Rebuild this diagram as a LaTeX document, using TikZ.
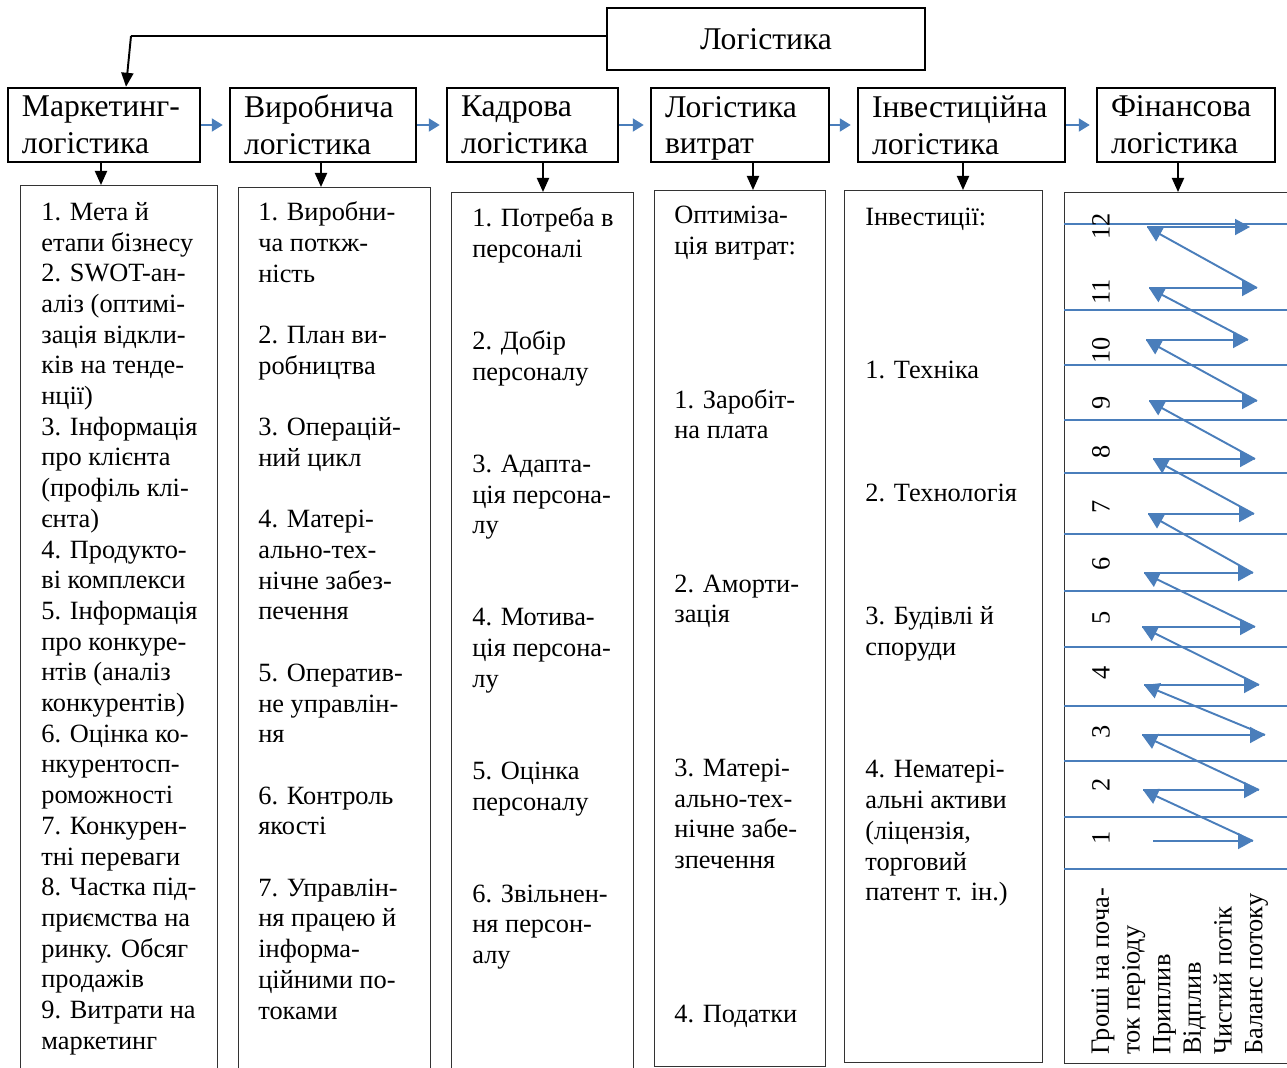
\documentclass[tikz,border=0pt]{standalone}
\usepackage{fontspec}
\setmainfont{Liberation Serif}
\usetikzlibrary{arrows.meta}

\definecolor{flowblue}{RGB}{74,126,187}

\tikzset{
  headbox/.style={draw, line width=1.4pt, align=left, inner xsep=2.8mm, inner ysep=0pt,
    minimum height=14.8mm, text width=#1, font=\fontsize{18}{21}\selectfont},
  listbox/.style={draw=black!80, line width=0.7pt, anchor=north west, inner sep=0pt},
  listtext/.style={anchor=north west, inner sep=0pt, align=left, font=\fontsize{15}{17.47}\selectfont},
  blkarr/.style={line width=1.1pt, -{Triangle[length=2.8mm,width=2.4mm]}},
  bluearr/.style={flowblue, line width=1.1pt, -{Triangle[length=2.2mm,width=2.6mm]}},
  flowarr/.style={flowblue, line width=1.1pt, -{Triangle[length=3mm,width=3.2mm]}},
  flowline/.style={flowblue, line width=0.8pt},
}

\begin{document}
\begin{tikzpicture}[x=0.2mm, y=-0.2mm]
\path[use as bounding box, clip] (0,0) rectangle (1287,1068);

% top
\node[draw, line width=0.9pt, minimum width=63.6mm, minimum height=12.4mm,
  font=\fontsize{18}{21}\selectfont] (log) at (766,39) {Логістика};

% kinds of logistics
\node[headbox=32.8mm] (m1) at (104,125) {Маркетинг-\\логістика};
\node[headbox=31.6mm] (m2) at (323,125) {Виробнича\\логістика};
\node[headbox=28.6mm] (m3) at (532.5,125) {Кадрова\\логістика};
\node[headbox=30mm] (m4) at (740,125) {Логістика\\\smash{витрат}};
\node[headbox=35.8mm] (m5) at (961.5,125) {Інвестиційна\\логістика};
\node[headbox=30mm] (m6) at (1186,125) {Фінансова\\логістика};

\coordinate (bend) at (131,36);
\draw[line width=1.1pt] (log.west |- bend) -- (bend);
\draw[blkarr] (bend) -- (126,0 |- m1.north);

\foreach \i/\j in {1/2,2/3,3/4,4/5,5/6}
  \draw[bluearr] (m\i.east) -- ([xshift=-1.2mm]m\j.west);

% lists
\node[listbox, minimum width=39.4mm, minimum height=179mm] (c1) at (20,185) {};
\node[listbox, minimum width=38.4mm, minimum height=178.6mm] (c2) at (238,187) {};
\node[listbox, minimum width=36.4mm, minimum height=177.6mm] (c3) at (451,192) {};
\node[listbox, minimum width=34.2mm, minimum height=175.2mm] (c4) at (654,190) {};
\node[listbox, minimum width=39.6mm, minimum height=174.4mm] (c5) at (844,190) {};
\node[listbox, minimum width=48mm, minimum height=174.2mm] (c6) at (1064,192) {};

\foreach \i/\x in {1/101,2/321,3/543,4/753,5/963,6/1178}
  \draw[blkarr] (\x,0 |- m\i.south) -- (\x,0 |- c\i.north);

\node[listtext] (t1) at (41,198.5) {\strut 1. Мета й\\етапи бізнесу\\2. SWOT-ан-\\аліз (оптимі-\\зація відкли-\\ків на тенде-\\нції)\\3. Інформація\\про клієнта\\(профіль клі-\\єнта)\\4. Продукто-\\ві комплекси\\5. Інформація\\про конкуре-\\нтів (аналіз\\конкурентів)\\6. Оцінка ко-\\нкурентосп-\\роможності\\7. Конкурен-\\тні переваги\\8. Частка під-\\приємства на\\ринку. Обсяг\\продажів\\9. Витрати на\\маркетинг};
\node[listtext] (t2) at (258,199) {\strut 1. Виробни-\\ча поткж-\\ність\\~\\2. План ви-\\робництва\\~\\3. Операцій-\\ний цикл\\~\\4. Матері-\\ально-тех-\\нічне забез-\\печення\\~\\5. Оператив-\\не управлін-\\ня\\~\\6. Контроль\\якості\\~\\7. Управлін-\\ня працею й\\інформа-\\ційними по-\\токами};
\node[listtext] (t3) at (472,205) {\strut 1. Потреба в\\персоналі\\~\\~\\2. Добір\\персоналу\\~\\~\\3. Адапта-\\ція персона-\\лу\\~\\~\\4. Мотива-\\ція персона-\\лу\\~\\~\\5. Оцінка\\персоналу\\~\\~\\6. Звільнен-\\ня персон-\\алу};
\node[listtext] (t4) at (674,202) {\strut Оптиміза-\\ція витрат:\\~\\~\\~\\~\\1. Заробіт-\\на плата\\~\\~\\~\\~\\2. Аморти-\\зація\\~\\~\\~\\~\\3. Матері-\\ально-тех-\\нічне забе-\\зпечення\\~\\~\\~\\~\\4. Податки};
\node[listtext] (t5) at (865,203.5) {\strut Інвестиції:\\~\\~\\~\\~\\1. Техніка\\~\\~\\~\\2. Технологія\\~\\~\\~\\3. Будівлі й\\споруди\\~\\~\\~\\4. Нематері-\\альні активи\\(ліцензія,\\торговий\\патент т. ін.)};

% cash flow periods
\foreach \y in {224,310,365,420,473,534,591,647,706,761,817,869}
  \draw[flowline] (1064,\y) -- (1290,\y);
\foreach \n/\y in {1/838,2/785,3/732,4/673,5/618,6/564,7/507,8/452,9/403,10/350,11/292,12/226}
  \node[rotate=90, inner sep=0pt, font=\fontsize{15}{17.47}\selectfont] (n\n) at (1101,\y) {\n};

\foreach \i/\y/\l/\r in {1/841/1153/1253, 2/790/1143/1259, 3/735/1142/1265, 4/685/1144/1259,
  5/627/1142/1255, 6/573/1144/1253, 7/514/1148/1254, 8/459/1153/1255,
  9/401/1149/1257, 10/340/1146/1248, 11/288/1149/1257, 12/227/1147/1250}
{
  \coordinate (l\i) at (\l,\y);
  \coordinate (r\i) at (\r,\y);
}
\foreach \i in {1,...,12}
  \draw[flowarr] (l\i) -- (r\i);
\foreach \i [evaluate=\i as \j using int(\i+1)] in {1,...,11}
  \draw[flowarr] (r\i) -- (l\j);

\node[listtext, rotate=90] (legend) at (1087,1055) {\strut Гроші на поча-\\ток періоду\\Приплив\\Відплив\\Чистий потік\\Баланс потоку};
\end{tikzpicture}
\end{document}
